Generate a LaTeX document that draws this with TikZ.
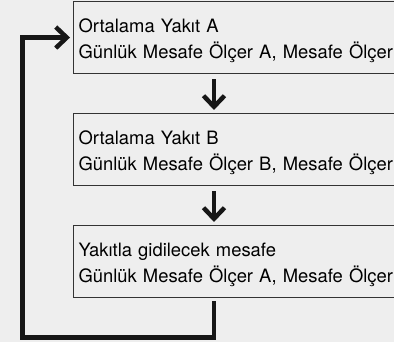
\documentclass[tikz,border=0pt]{standalone}
\usepackage{fontspec}
\setmainfont{TeX Gyre Heros}
\usepackage{xcolor}
\usetikzlibrary{arrows.meta,calc}
\definecolor{bgpanel}{HTML}{EEEEEE}
\definecolor{boxedge}{HTML}{333333}
\definecolor{flowink}{HTML}{161616}

\begin{document}
\begin{tikzpicture}[
    x=1pt, y=1pt,
    node distance=112pt,
    block/.style={
      rectangle,
      draw=boxedge,
      line width=1.1pt,
      fill=bgpanel,
      text width=347pt,
      inner xsep=5pt,
      align=left,
      minimum height=72pt,
      text height=20pt,
      font=\fontsize{18.4}{26}\selectfont
    },
    line/.style={draw=flowink, line width=4.5pt, -{Straight Barb[length=11pt,width=21pt]}},
]
    \useasboundingbox (0,0) rectangle (394,342);
    \clip (0,0) rectangle (394,342);
    \fill[bgpanel] (0,0) rectangle (394,342);

    \node [block, anchor=north west] at (73,341) (avgA) {Ortalama Yakıt A\\Günlük Mesafe Ölçer A, Mesafe Ölçer};
    \node [block, below of=avgA] (avgB) {Ortalama Yakıt B\\Günlük Mesafe Ölçer B, Mesafe Ölçer};
    \node [block, below of=avgB] (range) {Yakıtla gidilecek mesafe\\Günlük Mesafe Ölçer A, Mesafe Ölçer};

    \coordinate (loop) at (22.7,4.3);

    \path [line, shorten <=5pt, shorten >=3pt] ([xshift=141pt]avgA.south west) -- ([xshift=141pt]avgB.north west);
    \path [line, shorten <=5pt, shorten >=3pt] ([xshift=141pt]avgB.south west) -- ([xshift=141pt]range.north west);
    \path [line, shorten <=3pt, shorten >=3pt] ([xshift=141pt]range.south west) |- (loop) |- (avgA.west);

\end{tikzpicture}
\end{document}
